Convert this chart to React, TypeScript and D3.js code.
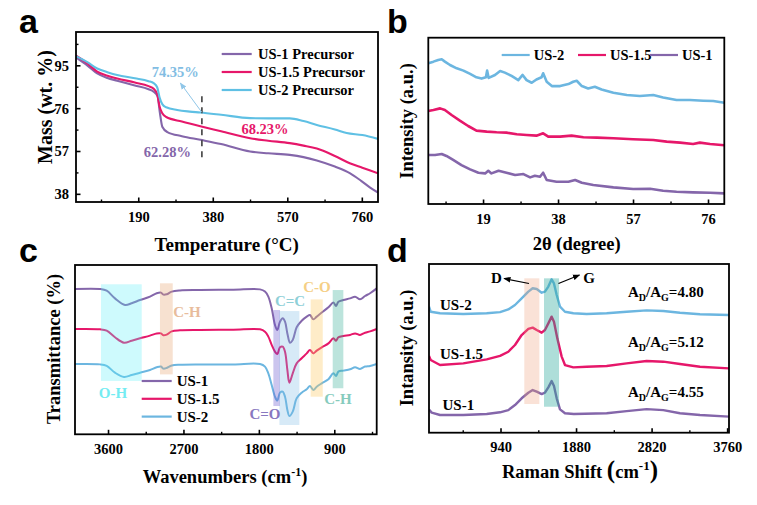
import React from 'react';
import * as d3 from 'd3';

type Pt = [number, number];

const SERIF = '"Liberation Serif","Times New Roman",Times,serif';
const SANS = '"Liberation Sans",Arial,Helvetica,sans-serif';

const PURPLE = '#8466aa';
const PINK = '#e6176a';
const BLUE = '#6cb6e0';
const CYAN = '#5fc0e4';

// ---------------- (a) TGA ----------------
const tgaXTicks = [190, 380, 570, 760];
const tgaXMinor = [95, 285, 475, 665];
const tgaYTicks = [38, 57, 76, 95];
const tgaYMinor = [47.5, 66.5, 85.5, 104.5];
const tgaUS1: Pt[] = [[30, 98.7], [60, 95], [84, 91.6], [110, 89.6], [135, 88.4], [180, 86.3], [215, 84.6], [228, 83.5], [238, 81.5], [244, 74], [250, 68], [263, 65.6], [300, 63.8], [347, 62.2], [400, 60.3], [474, 57], [520, 56.2], [575, 55.5], [610, 54.5], [644, 53], [690, 50.3], [728, 47.4], [757, 44], [780, 41], [800, 38.8]];
const tgaUS15: Pt[] = [[30, 99.5], [60, 96], [84, 92.4], [110, 90.6], [135, 89.4], [180, 87.6], [215, 86], [228, 84.8], [237, 82.5], [243, 77], [250, 74], [260, 72.3], [300, 70.3], [347, 68.2], [400, 66], [474, 62.9], [520, 61.8], [575, 60.7], [610, 59.6], [644, 58.3], [690, 55], [728, 51.8], [760, 49.8], [800, 47.3]];
const tgaUS2: Pt[] = [[30, 99.3], [60, 96.5], [84, 93.8], [110, 92.2], [135, 90.9], [180, 89.5], [215, 88.2], [228, 87.3], [237, 85.5], [243, 81], [250, 78], [260, 76.6], [288, 75.4], [320, 74.7], [347, 74.3], [400, 73.3], [474, 71.8], [520, 71.7], [575, 71.7], [610, 70.5], [644, 68.8], [690, 66.8], [720, 65.2], [760, 64.3], [800, 62.6]];
const tgaNames = ['US-1 Precursor', 'US-1.5 Precursor', 'US-2 Precursor'];
const tgaValues = ['62.28%', '68.23%', '74.35%'];

// ---------------- (b) XRD ----------------
const xrdXTicks = [19, 38, 57, 76];
const xrdXMinor = [9.5, 28.5, 47.5, 66.5];
const xrdUS2: Pt[] = [[5, 84.6], [6.3, 85.6], [7.5, 86.6], [8.4, 87.0], [9.2, 85.6], [10.5, 83.6], [12.2, 81.6], [13.9, 80.2], [15.6, 78.2], [17.2, 76.2], [18.5, 75.4], [19.6, 76.2], [19.9, 80.2], [20.3, 75.8], [21.9, 77.6], [23.2, 80.0], [24.4, 79.0], [26.1, 77.0], [27.8, 74.5], [28.9, 77.6], [29.9, 74.5], [31.2, 72.9], [32.4, 74.9], [33.7, 76.2], [34.1, 78.6], [35.0, 73.5], [36.3, 70.9], [38.4, 70.9], [40.5, 72.1], [41.7, 73.5], [42.6, 74.1], [43.9, 70.9], [45.5, 69.5], [47.2, 70.5], [48.9, 68.9], [51.9, 66.9], [55.3, 65.5], [58.6, 64.9], [62.0, 65.5], [64.5, 64.1], [67.9, 62.5], [71.3, 62.5], [74.7, 62.1], [77.2, 61.9], [80.0, 60.9]];
const xrdUS15: Pt[] = [[5, 55.9], [6.3, 56.5], [8.0, 57.5], [9.2, 56.5], [10.9, 53.5], [13.0, 50.1], [15.1, 46.9], [17.2, 44.1], [19.8, 43.5], [22.3, 43.1], [24.8, 42.9], [27.4, 41.9], [29.9, 41.5], [32.4, 41.1], [34.1, 42.5], [35.4, 40.5], [38.4, 40.5], [41.3, 41.1], [44.3, 40.1], [47.7, 39.9], [51.9, 39.5], [56.9, 38.9], [62.0, 38.5], [65.4, 37.5], [68.8, 36.9], [72.1, 36.1], [73.8, 36.9], [76.4, 36.1], [80.0, 35.3]];
const xrdUS1: Pt[] = [[5, 29.5], [6.7, 29.5], [8.4, 30.1], [9.6, 28.9], [11.3, 26.5], [13.4, 23.4], [15.6, 20.8], [17.7, 18.8], [19.4, 18.4], [20.2, 20.0], [21.0, 18.4], [22.8, 20.0], [24.8, 18.8], [27.0, 17.4], [29.1, 18.0], [30.8, 16.0], [32.0, 17.0], [33.3, 16.4], [34.1, 18.8], [35.0, 14.4], [37.5, 13.4], [40.5, 13.4], [42.2, 14.4], [43.9, 12.8], [46.8, 11.4], [51.9, 10.0], [56.9, 9.0], [61.2, 9.2], [64.5, 8.0], [67.9, 7.4], [72.1, 7.0], [76.4, 6.8], [80.0, 6.4]];
const xrdNames = ['US-2', 'US-1.5', 'US-1'];

// ---------------- (c) FTIR ----------------
const irXTicks = [3600, 2700, 1800, 900];
const irXMinor = [3150, 2250, 1350, 450];
const irUS1: Pt[] = [[4000, 85.8], [3702, 85.8], [3622, 84.8], [3523, 80.3], [3403, 76.4], [3324, 77.4], [3224, 79.3], [3105, 81.3], [3025, 83.3], [2974, 83.7], [2946, 82.5], [2906, 82.7], [2846, 84.3], [2747, 85.0], [2508, 85.2], [2110, 85.4], [1792, 85.6], [1733, 84.3], [1693, 81.3], [1653, 74.4], [1614, 64.6], [1586, 61.6], [1554, 66.5], [1522, 68.5], [1494, 66.5], [1466, 59.6], [1434, 54.1], [1402, 55.7], [1355, 63.2], [1295, 67.1], [1235, 69.5], [1196, 70.5], [1156, 67.9], [1116, 69.5], [1056, 71.9], [976, 75.0], [917, 77.8], [885, 75.8], [857, 78.3], [798, 79.3], [718, 80.3], [658, 81.3], [599, 79.7], [539, 81.7], [479, 83.3], [400, 86.2]];
const irUS15: Pt[] = [[4000, 62.2], [3702, 62.0], [3622, 61.2], [3523, 57.3], [3415, 54.1], [3324, 55.3], [3224, 56.7], [3105, 58.3], [3025, 59.6], [2974, 59.6], [2946, 58.5], [2906, 58.9], [2846, 60.8], [2747, 61.4], [2508, 61.6], [2110, 61.8], [1792, 62.0], [1733, 60.6], [1693, 57.7], [1653, 52.8], [1614, 48.8], [1586, 47.4], [1554, 51.4], [1522, 51.8], [1494, 48.8], [1466, 38.0], [1442, 30.5], [1402, 36.0], [1355, 41.9], [1295, 44.9], [1235, 47.8], [1196, 49.8], [1156, 47.8], [1116, 49.4], [1056, 51.4], [976, 53.7], [917, 56.7], [885, 55.3], [857, 57.3], [798, 58.1], [718, 58.7], [658, 59.6], [599, 58.7], [539, 60.0], [479, 60.8], [400, 62.2]];
const irUS2: Pt[] = [[4000, 41.5], [3702, 41.3], [3622, 40.4], [3523, 36.4], [3415, 33.9], [3324, 35.0], [3224, 36.4], [3105, 38.0], [3025, 39.6], [2974, 40.0], [2946, 38.8], [2906, 39.2], [2846, 40.6], [2747, 41.1], [2508, 41.3], [2110, 41.3], [1792, 41.5], [1733, 40.0], [1693, 36.0], [1653, 29.1], [1614, 22.2], [1586, 19.9], [1554, 24.6], [1522, 25.2], [1494, 22.2], [1466, 14.4], [1442, 10.8], [1402, 13.4], [1355, 21.3], [1295, 24.6], [1235, 26.6], [1196, 28.5], [1156, 26.2], [1116, 28.1], [1056, 30.1], [976, 32.5], [917, 36.0], [885, 34.4], [857, 37.0], [798, 37.6], [718, 38.4], [658, 39.6], [599, 38.6], [539, 40.0], [479, 40.4], [400, 41.5]];
const irNames = ['US-1', 'US-1.5', 'US-2'];
// bands: [wavenumber from, wavenumber to, y low, y high]
const irBandRanges: [number, number, number, number][] = [[3690, 3204, 31.5, 88.6], [2986, 2834, 35.4, 89.2], [1633, 1554, 16.7, 73.4], [1561, 1323, 5.5, 72.8], [1188, 1044, 22.2, 79.7], [925, 798, 27.2, 85.2]];
const irBandNames = ['O-H', 'C-H', 'C=O', 'C=C', 'C-O', 'C-H'];

// ---------------- (d) Raman ----------------
const ramXTicks = [940, 1880, 2820, 3760];
const ramXMinor = [470, 1410, 2350, 3290];
const ramUS2: Pt[] = [[44, 74.7], [65, 71.7], [181, 70.8], [471, 70.4], [762, 70.8], [928, 71.5], [1031, 73.1], [1114, 75.7], [1197, 79.6], [1280, 83.6], [1334, 85.6], [1384, 85.2], [1446, 83.0], [1487, 83.6], [1529, 86.6], [1570, 90.9], [1599, 88.5], [1633, 81.6], [1674, 74.7], [1736, 71.7], [1840, 70.8], [2006, 70.4], [2255, 70.8], [2503, 71.7], [2752, 72.5], [2960, 72.1], [3167, 71.1], [3416, 70.2], [3777, 69.8]];
const ramUS15: Pt[] = [[44, 45.5], [65, 43.1], [181, 40.1], [471, 41.1], [762, 43.5], [928, 45.5], [1031, 48.0], [1114, 52.0], [1197, 57.9], [1280, 61.5], [1334, 62.3], [1384, 60.9], [1446, 59.3], [1487, 60.9], [1529, 64.8], [1570, 68.8], [1599, 65.8], [1641, 55.9], [1695, 45.1], [1736, 40.1], [1840, 38.7], [2006, 39.1], [2255, 39.5], [2503, 41.1], [2752, 42.5], [2960, 42.1], [3167, 40.7], [3416, 39.1], [3777, 38.1]];
const ramUS1: Pt[] = [[44, 13.8], [77, 11.9], [181, 10.5], [471, 10.5], [762, 11.1], [928, 12.1], [1031, 13.4], [1114, 16.4], [1197, 20.4], [1280, 23.7], [1334, 25.3], [1384, 24.3], [1446, 22.9], [1487, 23.7], [1529, 26.9], [1570, 30.6], [1599, 27.7], [1633, 20.4], [1674, 13.8], [1736, 11.5], [1846, 11.1], [2255, 11.5], [2503, 12.8], [2752, 14.0], [2960, 13.4], [3167, 11.5], [3416, 10.5], [3777, 9.5]];
const ramNames = ['US-2', 'US-1.5', 'US-1'];
const ramRatios = ['4.80', '5.12', '4.55'];
const ramBandRanges: [number, number, number, number][] = [[1230, 1417, 17.0, 91.5], [1475, 1662, 15.4, 91.5]];

interface Box { l: number; r: number; t: number; b: number; }

function Axes({ box, x, y, xTicks, xMinor, yTicks, yMinor }: any) {
  return (
    <g>
      {xTicks.map((t: number) => (
        <g key={'xt' + t}>
          <line x1={x(t)} x2={x(t)} y1={box.b} y2={box.b - 4.5} stroke="#000" strokeWidth={1.6} />
          <text x={x(t)} y={box.b + 19.5} textAnchor="middle" fontFamily={SERIF} fontWeight="bold" fontSize={14.5}>{t}</text>
        </g>
      ))}
      {xMinor.map((t: number) => (
        <line key={'xm' + t} x1={x(t)} x2={x(t)} y1={box.b} y2={box.b - 2.5} stroke="#000" strokeWidth={1.4} />
      ))}
      {yTicks && yTicks.map((t: number) => (
        <g key={'yt' + t}>
          <line x1={box.l} x2={box.l + 4.5} y1={y(t)} y2={y(t)} stroke="#000" strokeWidth={1.6} />
          <text x={box.l - 7} y={y(t) + 5} textAnchor="end" fontFamily={SERIF} fontWeight="bold" fontSize={14.5}>{t}</text>
        </g>
      ))}
      {yMinor && yMinor.map((t: number) => (
        <line key={'ym' + t} x1={box.l} x2={box.l + 2.5} y1={y(t)} y2={y(t)} stroke="#000" strokeWidth={1.4} />
      ))}
      <rect x={box.l} y={box.t} width={box.r - box.l} height={box.b - box.t} fill="none" stroke="#000" strokeWidth={1.8} />
    </g>
  );
}

function PanelLetter({ x, y, s }: { x: number; y: number; s: string }) {
  return <text x={x} y={y} fontFamily={SANS} fontWeight="bold" fontSize={34}>{s}</text>;
}

function YTitle({ x, y, size, children }: any) {
  return (
    <text transform={`translate(${x},${y}) rotate(-90)`} textAnchor="middle" fontFamily={SERIF} fontWeight="bold" fontSize={size}>{children}</text>
  );
}

function PanelA() {
  const box: Box = { l: 76, r: 378, t: 32, b: 202 };
  const x = d3.scaleLinear().domain([30, 800]).range([box.l, box.r]);
  const y = d3.scaleLinear().domain([34.6, 110]).range([box.b, box.t]);
  const line = d3.line<Pt>().x(d => x(d[0])).y(d => y(d[1])).curve(d3.curveMonotoneX);
  const series = [
    { pts: tgaUS1, color: PURPLE },
    { pts: tgaUS15, color: PINK },
    { pts: tgaUS2, color: CYAN },
  ];
  return (
    <g>
      <defs>
        <clipPath id="clipA"><rect x={box.l} y={box.t} width={box.r - box.l} height={box.b - box.t} /></clipPath>
        <marker id="arrA" viewBox="0 0 10 10" refX="9" refY="5" markerWidth="7" markerHeight="7" orient="auto">
          <path d="M0,1 L10,5 L0,9 z" fill="#8fc6e8" />
        </marker>
      </defs>
      <g clipPath="url(#clipA)">
        {series.map((s, i) => (
          <path key={i} d={line(s.pts) || ''} fill="none" stroke={s.color} strokeWidth={2.1} />
        ))}
      </g>
      <line x1={x(351)} x2={x(351)} y1={y(81.5)} y2={y(54)} stroke="#333" strokeWidth={1.5} strokeDasharray="6,5" />
      <line x1={x(351)} y1={y(74.35)} x2={x(296)} y2={y(87.4)} stroke="#8fc6e8" strokeWidth={1} markerEnd="url(#arrA)" />
      <text x={x(283)} y={y(90.2)} textAnchor="middle" fontFamily={SERIF} fontWeight="bold" fontSize={14.5} fill="#82bde3">{tgaValues[2]}</text>
      <text x={x(512)} y={y(64.6)} textAnchor="middle" fontFamily={SERIF} fontWeight="bold" fontSize={14.5} fill={PINK}>{tgaValues[1]}</text>
      <text x={x(263)} y={y(54.4)} textAnchor="middle" fontFamily={SERIF} fontWeight="bold" fontSize={14.5} fill={PURPLE}>{tgaValues[0]}</text>
      {tgaNames.map((n, i) => (
        <g key={n}>
          <line x1={221.7} x2={251.7} y1={54 + i * 18} y2={54 + i * 18} stroke={series[i].color} strokeWidth={2.2} />
          <text x={258} y={54 + i * 18 + 5} fontFamily={SERIF} fontWeight="bold" fontSize={14.5}>{n}</text>
        </g>
      ))}
      <Axes box={box} x={x} y={y} xTicks={tgaXTicks} xMinor={tgaXMinor} yTicks={tgaYTicks} yMinor={tgaYMinor} />
      <text x={226.7} y={251} textAnchor="middle" fontFamily={SERIF} fontWeight="bold" fontSize={19}>Temperature (°C)</text>
      <YTitle x={51.5} y={107} size={20}>Mass (wt. %)</YTitle>
      <PanelLetter x={19} y={33} s="a" />
    </g>
  );
}

function PanelB() {
  const box: Box = { l: 428.3, r: 724.3, t: 37.7, b: 204 };
  const x = d3.scaleLinear().domain([5, 80]).range([box.l, box.r]);
  const y = d3.scaleLinear().domain([0, 100]).range([box.b, box.t]);
  const line = d3.line<Pt>().x(d => x(d[0])).y(d => y(d[1]));
  const series = [
    { pts: xrdUS2, color: BLUE },
    { pts: xrdUS15, color: PINK },
    { pts: xrdUS1, color: PURPLE },
  ];
  const legendX = [501.7, 578, 650];
  return (
    <g>
      <defs>
        <clipPath id="clipB"><rect x={box.l} y={box.t} width={box.r - box.l} height={box.b - box.t} /></clipPath>
      </defs>
      <g clipPath="url(#clipB)">
        {series.map((s, i) => (
          <path key={i} d={line(s.pts) || ''} fill="none" stroke={s.color} strokeWidth={2.6} strokeLinejoin="round" />
        ))}
      </g>
      {xrdNames.map((n, i) => (
        <g key={n}>
          <line x1={legendX[i]} x2={legendX[i] + 28} y1={55} y2={55} stroke={series[i].color} strokeWidth={2.2} />
          <text x={legendX[i] + 32} y={60} fontFamily={SERIF} fontWeight="bold" fontSize={14.5}>{n}</text>
        </g>
      ))}
      <Axes box={box} x={x} y={y} xTicks={xrdXTicks} xMinor={xrdXMinor} />
      <text x={576.7} y={250} textAnchor="middle" fontFamily={SERIF} fontWeight="bold" fontSize={18.5}>2θ (degree)</text>
      <YTitle x={413} y={121} size={18.5}>Intensity (a.u.)</YTitle>
      <PanelLetter x={387} y={33} s="b" />
    </g>
  );
}

function PanelC() {
  const box: Box = { l: 75, r: 376.7, t: 265, b: 434.3 };
  const x = d3.scaleLinear().domain([4000, 400]).range([box.l, box.r]);
  const y = d3.scaleLinear().domain([0, 100]).range([box.b, box.t]);
  const line = d3.line<Pt>().x(d => x(d[0])).y(d => y(d[1])).curve(d3.curveCatmullRom.alpha(0.5));
  const series = [
    { pts: irUS1, color: PURPLE },
    { pts: irUS15, color: PINK },
    { pts: irUS2, color: BLUE },
  ];
  const bandFill = ['#5ef0f7', '#e9a878', '#6a5acd', '#7ab8e6', '#fbc860', '#3fb39a'];
  const bandOp = [0.3, 0.35, 0.35, 0.3, 0.35, 0.35];
  const labelColor = ['#74ecf2', '#e8bc9c', '#8878c0', '#8fd0d8', '#f5cf86', '#86cbbd'];
  const labelPos: Pt[] = [[113, 398], [187, 317], [265, 419], [290, 306], [317, 292], [338, 404]];
  return (
    <g>
      <defs>
        <clipPath id="clipC"><rect x={box.l} y={box.t} width={box.r - box.l} height={box.b - box.t} /></clipPath>
      </defs>
      <g clipPath="url(#clipC)">
        {series.map((s, i) => (
          <path key={i} d={line(s.pts) || ''} fill="none" stroke={s.color} strokeWidth={2} />
        ))}
      </g>
      {irBandRanges.map((b, i) => (
        <rect key={i} x={x(b[0])} width={x(b[1]) - x(b[0])} y={y(b[3])} height={y(b[2]) - y(b[3])} fill={bandFill[i]} opacity={bandOp[i]} />
      ))}
      {irBandNames.map((n, i) => (
        <text key={i} x={labelPos[i][0]} y={labelPos[i][1]} textAnchor="middle" fontFamily={SERIF} fontWeight="bold" fontSize={15} fill={labelColor[i]}>{n}</text>
      ))}
      {irNames.map((n, i) => (
        <g key={n}>
          <line x1={141.7} x2={171.7} y1={381 + i * 17.8} y2={381 + i * 17.8} stroke={series[i].color} strokeWidth={2.2} />
          <text x={176.7} y={381 + i * 17.8 + 5} fontFamily={SERIF} fontWeight="bold" fontSize={15}>{n}</text>
        </g>
      ))}
      <Axes box={box} x={x} y={y} xTicks={irXTicks} xMinor={irXMinor} />
      <text x={225} y={483} textAnchor="middle" fontFamily={SERIF} fontWeight="bold" fontSize={18.5}>
        Wavenumbers (cm<tspan dy={-7} fontSize={12}>-1</tspan><tspan dy={7}>)</tspan>
      </text>
      <YTitle x={59.5} y={349} size={18.5}>Transmittance (%)</YTitle>
      <PanelLetter x={19} y={262} s="c" />
    </g>
  );
}

function PanelD() {
  const box: Box = { l: 429, r: 729, t: 264, b: 432.7 };
  const x = d3.scaleLinear().domain([44, 3777]).range([box.l, box.r]);
  const y = d3.scaleLinear().domain([0, 100]).range([box.b, box.t]);
  const line = d3.line<Pt>().x(d => x(d[0])).y(d => y(d[1]));
  const series = [
    { pts: ramUS2, color: BLUE },
    { pts: ramUS15, color: PINK },
    { pts: ramUS1, color: PURPLE },
  ];
  const bandFill = ['#f0a07a', '#2aa99a'];
  const bandOp = [0.3, 0.38];
  const nameY = [310, 359, 410];
  const ratioY = [297, 347, 397];
  return (
    <g>
      <defs>
        <clipPath id="clipD"><rect x={box.l} y={box.t} width={box.r - box.l} height={box.b - box.t} /></clipPath>
        <marker id="arrD" viewBox="0 0 10 10" refX="9" refY="5" markerWidth="6" markerHeight="6" orient="auto">
          <path d="M0,1 L10,5 L0,9 z" fill="#000" />
        </marker>
      </defs>
      <g clipPath="url(#clipD)">
        {series.map((s, i) => (
          <path key={i} d={line(s.pts) || ''} fill="none" stroke={s.color} strokeWidth={2.4} strokeLinejoin="round" />
        ))}
      </g>
      {ramBandRanges.map((b, i) => (
        <rect key={i} x={x(b[0])} width={x(b[1]) - x(b[0])} y={y(b[3])} height={y(b[2]) - y(b[3])} fill={bandFill[i]} opacity={bandOp[i]} />
      ))}
      <line x1={529} y1={283.5} x2={504} y2={278.5} stroke="#000" strokeWidth={1.2} markerEnd="url(#arrD)" />
      <line x1={558.5} y1={283.5} x2={579.5} y2={275} stroke="#000" strokeWidth={1.2} markerEnd="url(#arrD)" />
      <text x={496.5} y={283} textAnchor="middle" fontFamily={SERIF} fontWeight="bold" fontSize={15}>D</text>
      <text x={589} y={283} textAnchor="middle" fontFamily={SERIF} fontWeight="bold" fontSize={15}>G</text>
      {ramNames.map((n, i) => (
        <text key={n} x={i === 2 ? 442.5 : 440} y={nameY[i]} fontFamily={SERIF} fontWeight="bold" fontSize={15}>{n}</text>
      ))}
      {ramRatios.map((r, i) => (
        <text key={i} x={628} y={ratioY[i]} fontFamily={SERIF} fontWeight="bold" fontSize={15}>
          A<tspan dy={4} fontSize={10}>D</tspan><tspan dy={-4}>/A</tspan><tspan dy={4} fontSize={10}>G</tspan><tspan dy={-4}>={r}</tspan>
        </text>
      ))}
      <Axes box={box} x={x} y={y} xTicks={ramXTicks} xMinor={ramXMinor} />
      <text x={580} y={478} textAnchor="middle" fontFamily={SERIF} fontWeight="bold" fontSize={18.5}>
        Raman Shift <tspan fontSize={25}>(</tspan>cm<tspan dy={-8} fontSize={13}>-1</tspan><tspan dy={8} fontSize={25}>)</tspan>
      </text>
      <YTitle x={413} y={348} size={18.5}>Intansity (a.u.)</YTitle>
      <PanelLetter x={387} y={262} s="d" />
    </g>
  );
}

export default function App() {
  return (
    <svg width={757} height={505} viewBox="0 0 757 505" style={{ position: 'absolute', left: 0, top: 0, background: '#fff' }}>
      <rect x={0} y={0} width={757} height={505} fill="#fff" />
      <PanelA />
      <PanelB />
      <PanelC />
      <PanelD />
    </svg>
  );
}
